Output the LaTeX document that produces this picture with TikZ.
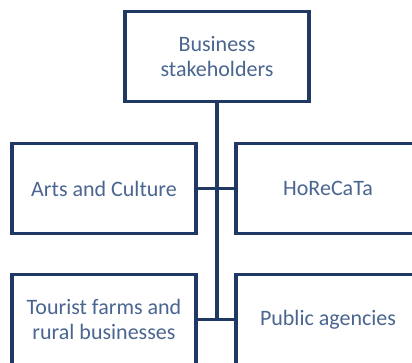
\documentclass[tikz,border=0pt]{standalone}
\usepackage{fontspec}
\setmainfont{Carlito}
\usetikzlibrary{positioning}

\definecolor{boxblue}{HTML}{1F3864}
\definecolor{txtblue}{HTML}{4A6690}

\tikzset{
    unit/.style={draw=boxblue, line width=3.5pt, fill=white, text=txtblue,
        minimum width=184pt, minimum height=90pt, align=center,
        font=\fontsize{22}{25}\selectfont},
    link/.style={draw=boxblue, line width=3.5pt}
}

\begin{document}
\begin{tikzpicture}[x=1pt, y=1pt]
    \fill[white] (0,0) rectangle (412,-362);
    \useasboundingbox (0,0) rectangle (412,-362);
    \clip (0,0) rectangle (412,-362);

    \node[unit] (business) at (217,-56.5)  {Business\\stakeholders};
    \node[unit] (arts)     at (104,-188.5) {Arts and Culture};
    \node[unit] (horeca)   at (328,-188.5) {HoReCaTa};
    \node[unit] (farms)    at (104,-319.5) {Tourist farms and\\rural businesses};
    \node[unit] (public)   at (328,-319.5) {Public agencies};

    \draw[link] (business.south) -- (business.south |- farms.east);
    \draw[link] (arts.east) -- (horeca.west);
    \draw[link] (farms.east) -- (public.west);
\end{tikzpicture}
\end{document}
